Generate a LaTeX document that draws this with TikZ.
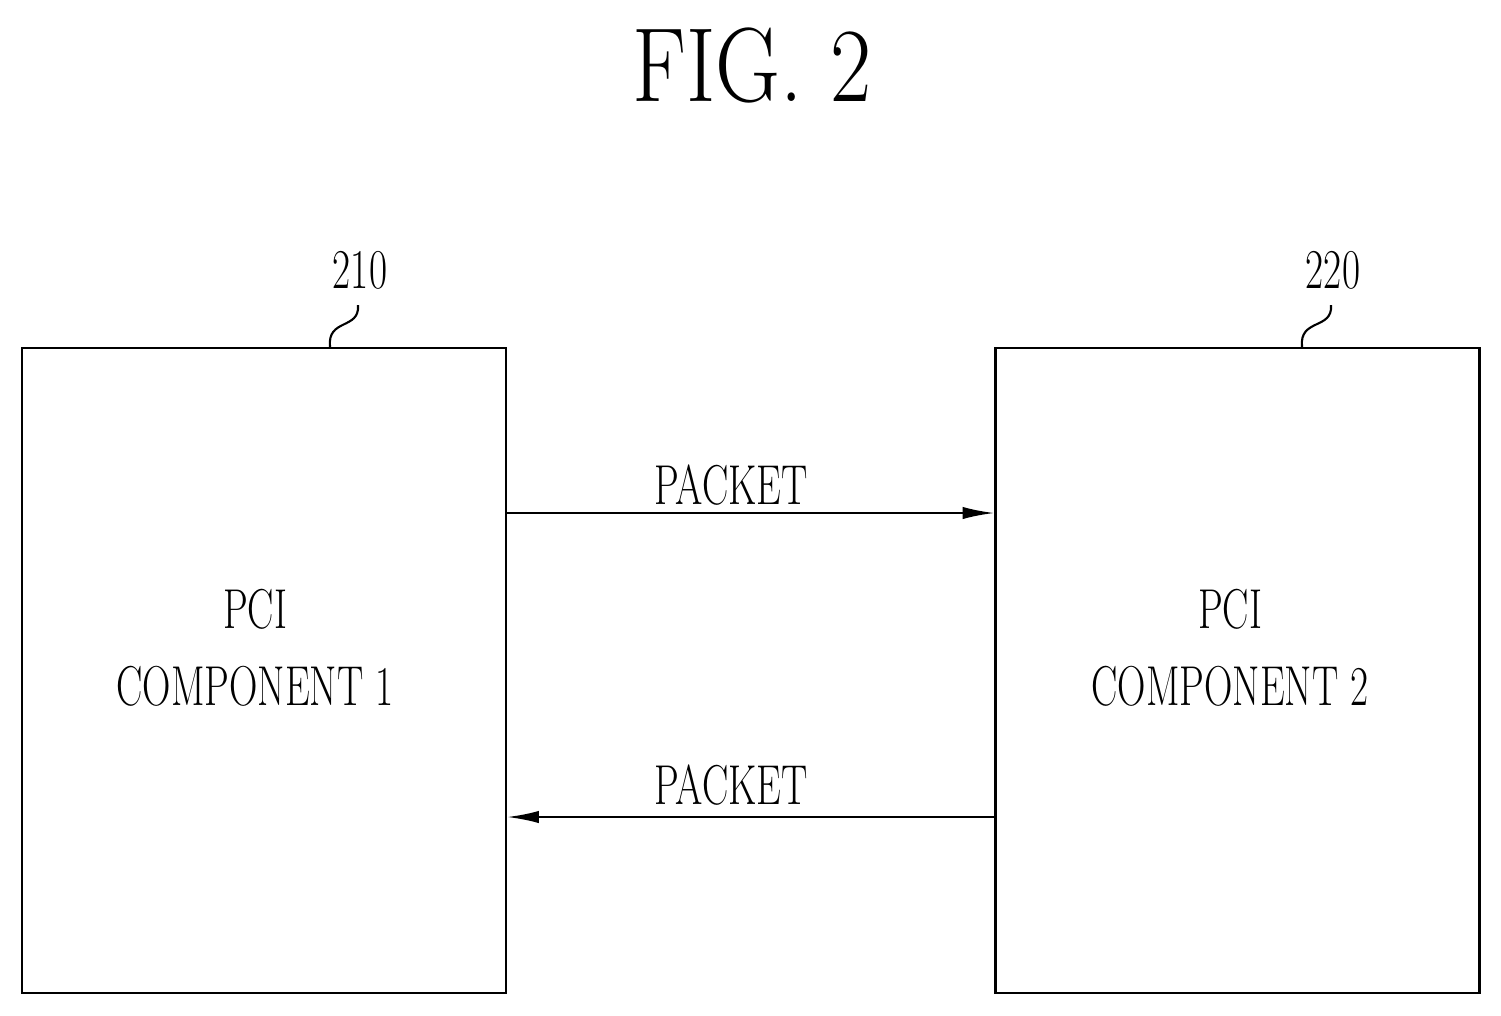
\documentclass[tikz,border=0pt]{standalone}
\usetikzlibrary{positioning,arrows.meta}
\tikzset{
  comp/.style={rectangle, draw=black, line width=1.4pt, minimum width=9.68cm, minimum height=12.9cm},
  connect/.style={-{Latex[length=18pt,width=7pt]}, line width=1.3pt},
  lbl/.style={font=\fontsize{32}{32}\selectfont, inner sep=0pt, align=center}
}
\newcommand{\narrow}[1]{\scalebox{0.7}[1]{#1}}
\begin{document}
\begin{tikzpicture}[x=0.02cm,y=-0.02cm]
  \useasboundingbox (0,0) rectangle (1501,1015);
  \node[lbl,font=\fontsize{60}{60}\selectfont] (Title) at (752,65) {\scalebox{0.85}[1]{FIG. 2}};

  % the two components
  \node[comp] (Comp1) at (264,670.5) {};
  \node[comp] (Comp2) at (1237.5,670.5) {};
  \node[lbl] (Name1) at (255,648) {\narrow{PCI}\\[12pt]\narrow{COMPONENT 1}};
  \node[lbl] (Name2) at (1230,648) {\narrow{PCI}\\[12pt]\narrow{COMPONENT 2}};

  % reference numbers with leaders
  \node[lbl] (Num1) at (360,270) {\narrow{210}};
  \node[lbl] (Num2) at (1333,270) {\narrow{220}};
  \coordinate (t1) at (358,305);
  \coordinate (t2) at (1331,305);
  \draw[line width=1.2pt] (Comp1.north -| 330,0) .. controls (327,318) and (360,330) .. (t1);
  \draw[line width=1.2pt] (Comp2.north -| 1302,0) .. controls (1299,318) and (1333,330) .. (t2);

  % packets
  \coordinate (a1) at (Comp1.east |- 0,513);
  \coordinate (b1) at (Comp2.west |- 0,513);
  \coordinate (a2) at (Comp2.west |- 0,817);
  \coordinate (b2) at (Comp1.east |- 0,817);
  \draw[connect] (a1) -- (b1);
  \draw[connect] (a2) -- (b2);
  \node[lbl] (Pk1) at (731,485) {\narrow{PACKET}};
  \node[lbl] (Pk2) at (731,785) {\narrow{PACKET}};
\end{tikzpicture}
\end{document}
